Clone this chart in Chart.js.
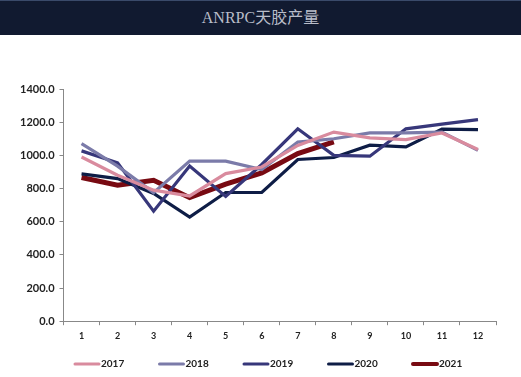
<!DOCTYPE html>
<html>
<head>
<meta charset="utf-8">
<script src="https://cdn.jsdelivr.net/npm/chart.js@4/dist/chart.umd.min.js"></script>
<style>
  html, body { margin: 0; padding: 0; background: #ffffff; }
  #wrap { position: relative; width: 521px; height: 377px; overflow: hidden; background: #fff; }
  #titlebar { position: absolute; left: 0; top: 0; width: 521px; height: 35px; background: #111a30;
    border-top: 1px solid #3a4a6a; box-sizing: border-box; z-index: 2;
    font-family: "Liberation Serif", "Noto Sans CJK SC", serif; color: #b9bdc9; font-size: 16px;
    text-align: center; line-height: 33px; }
  canvas { position: absolute; left: 0; top: 0; }
</style>
</head>
<body>
<div id="wrap">
  <div id="titlebar">ANRPC天胶产量</div>
  <canvas id="c" width="521" height="377"></canvas>
</div>
<script>
const categories = ["1","2","3","4","5","6","7","8","9","10","11","12"];
const s2017 = [990, 880, 790, 755, 890, 930, 1060, 1140, 1105, 1095, 1135, 1035];
const s2018 = [1070, 935, 775, 965, 965, 915, 1080, 1100, 1135, 1135, 1140, 1030];
const s2019 = [1027, 955, 663, 935, 752, 945, 1160, 1000, 995, 1160, 1188, 1215];
const s2020 = [888, 860, 770, 628, 776, 776, 975, 987, 1061, 1051, 1158, 1155];
const s2021 = [866, 820, 850, 745, 826, 894, 1011, 1081];
const yTicks = [0, 200, 400, 600, 800, 1000, 1200, 1400];

const mk = (label, data, color, width) => ({
  label, data, borderColor: color, backgroundColor: color, borderWidth: width,
  pointRadius: 0, pointHoverRadius: 0, tension: 0, fill: false
});

const fontFam = "Lato, 'Liberation Sans', sans-serif";

// custom legend: short line sample followed directly by the label text
const bottomLegend = {
  id: 'bottomLegend',
  afterDraw(chart) {
    const ctx = chart.ctx;
    const y = 364;
    ctx.save();
    ctx.font = "bold 10px " + fontFam;
    ctx.textBaseline = 'middle';
    ctx.textAlign = 'left';
    chart.data.datasets.forEach((ds, i) => {
      const x0 = 75 + i * 84.5;
      ctx.strokeStyle = ds.borderColor;
      ctx.lineWidth = ds.borderWidth >= 5 ? 4 : 3;
      ctx.lineCap = 'round';
      ctx.beginPath();
      ctx.moveTo(x0, y);
      ctx.lineTo(x0 + 24, y);
      ctx.stroke();
      ctx.fillStyle = '#222';
      ctx.fillText(ds.label, x0 + 26, y);
    });
    ctx.restore();
  }
};

new Chart(document.getElementById('c'), {
  type: 'line',
  data: {
    labels: categories,
    datasets: [
      mk('2017', s2017, '#d98b9e', 3.2),
      mk('2018', s2018, '#7b7ba9', 3.2),
      mk('2019', s2019, '#37377a', 3.2),
      mk('2020', s2020, '#0e1d46', 3.2),
      mk('2021', s2021, '#780a12', 5)
    ]
  },
  plugins: [bottomLegend],
  options: {
    responsive: false,
    animation: false,
    layout: { padding: { left: 15, right: 25, top: 89, bottom: 31 } },
    plugins: {
      title: { display: false },
      tooltip: { enabled: false },
      legend: { display: false }
    },
    scales: {
      x: {
        offset: true,
        grid: { display: true, drawOnChartArea: false, offset: true, tickLength: 4, color: '#888', tickColor: '#888' },
        border: { color: '#888', width: 1 },
        ticks: { color: '#222', font: { family: fontFam, size: 9, weight: 'bold' }, padding: 5, maxRotation: 0 }
      },
      y: {
        min: 0, max: 1400,
        afterBuildTicks: (axis) => { axis.ticks = yTicks.map(v => ({ value: v })); },
        grid: { display: true, drawOnChartArea: false, tickLength: 4, color: '#888', tickColor: '#888' },
        border: { color: '#888', width: 1 },
        ticks: {
          color: '#222', font: { family: fontFam, size: 11, weight: 'bold' }, padding: 5,
          callback: (v) => Number(v).toFixed(1)
        }
      }
    }
  }
});
</script>
</body>
</html>
